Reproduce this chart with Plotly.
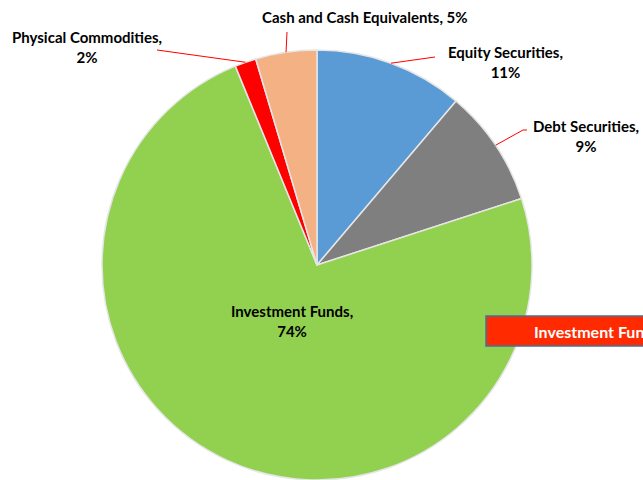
import math
import plotly.graph_objects as go

labels = ["Equity Securities", "Debt Securities", "Investment Funds",
          "Physical Commodities", "Cash and Cash Equivalents"]
values = [11.2, 8.8, 73.8, 1.6, 4.6]
colors = ["#5B9BD5", "#7F7F7F", "#92D050", "#FF0000", "#F4B183"]

W, H = 643, 480
CX, CY, R = 317, 265, 215


def px(x):
    return x / W


def py(y):
    return 1 - y / H


total = sum(values)
pcts = [round(v / total * 100) for v in values]

fig = go.Figure(go.Pie(
    labels=labels, values=values, sort=False, direction="clockwise", rotation=0,
    marker=dict(colors=colors, line=dict(color="#E6E6E6", width=1.5)),
    textinfo="none", hoverinfo="label+percent", showlegend=False,
    domain=dict(x=[px(CX - R), px(CX + R)], y=[py(CY + R), py(CY - R)]),
))

# mid angles (clockwise from 12 o'clock)
mids = []
cum = 0
for v in values:
    mids.append((cum + v / 2) / total * 2 * math.pi)
    cum += v


def edge(i):
    a = mids[i]
    return CX + R * math.sin(a), CY - R * math.cos(a)


FAM = "Lato, 'Open Sans', sans-serif"
font = dict(family=FAM, size=15, color="#000000", weight="bold")

# label layout: (text center x, center y, leader end x, leader end y)
label_pos = {
    0: (505, 62, 435, 57),
    1: (586, 136, 523, 130),
    3: (87, 47, 157, 50),
    4: (365, 17, 287, 32),
}

annotations = []
shapes = []
for i, (tx, ty, lx, ly) in label_pos.items():
    if i == 4:
        text = f"{labels[i]}, {pcts[i]}%"
    else:
        text = f"{labels[i]},<br>{pcts[i]}%"
    annotations.append(dict(x=px(tx), y=py(ty), xref="paper", yref="paper",
                            text=text, showarrow=False, font=font,
                            xanchor="center", yanchor="middle"))
    ex, ey = edge(i)
    shapes.append(dict(type="line", xref="paper", yref="paper",
                       x0=px(ex), y0=py(ey), x1=px(lx), y1=py(ly),
                       line=dict(color="#FF0000", width=1)))
    if i == 1:
        shapes.append(dict(type="line", xref="paper", yref="paper",
                           x0=px(lx), y0=py(ly), x1=px(lx + 4), y1=py(ly),
                           line=dict(color="#FF0000", width=1)))

# inside label for the big slice
annotations.append(dict(x=px(292), y=py(321), xref="paper", yref="paper",
                        text=f"{labels[2]},<br>{pcts[2]}%", showarrow=False,
                        font=font, xanchor="center", yanchor="middle"))

# red callout box (runs off the right edge, as in the original)
shapes.append(dict(type="rect", xref="paper", yref="paper",
                   x0=px(486), y0=py(346), x1=px(700), y1=py(316),
                   fillcolor="#FF2A00", line=dict(color="#41719C", width=1.5)))
annotations.append(dict(x=px(532), y=py(331), xref="paper", yref="paper",
                        text=labels[2], showarrow=False,
                        font=dict(family=FAM, size=16, color="#FFFFFF", weight="bold"),
                        xanchor="left", yanchor="middle"))

fig.update_layout(
    width=W, height=H, margin=dict(l=0, r=0, t=0, b=0),
    paper_bgcolor="#FFFFFF", plot_bgcolor="#FFFFFF",
    annotations=annotations, shapes=shapes,
)

fig.write_html("out.html")
